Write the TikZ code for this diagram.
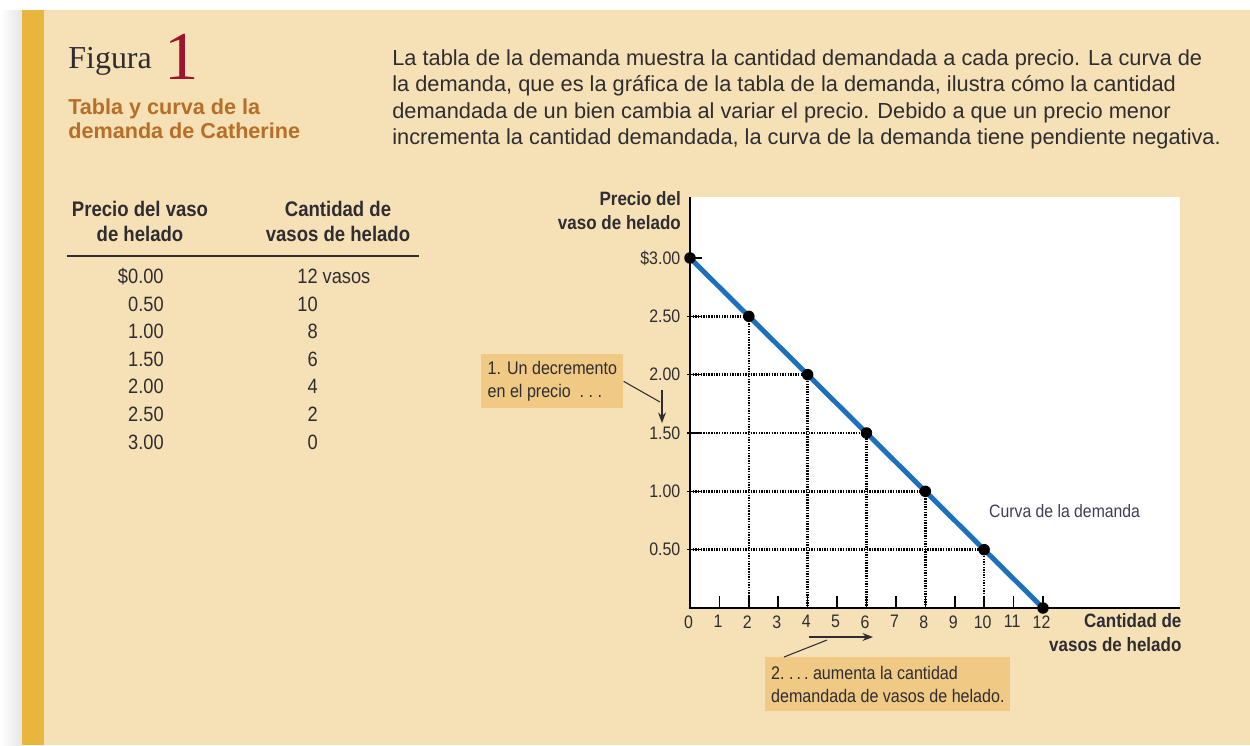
\documentclass[tikz,border=0pt]{standalone}
\usepackage{fontspec}
\usepackage{xcolor}
\usetikzlibrary{arrows.meta, positioning}
\newfontfamily\condfont{Liberation Sans}[FakeStretch=0.88]
\newfontfamily\headfont{Liberation Sans}
\newfontfamily\figfont{Liberation Serif}
\definecolor{pagebeige}{RGB}{246,224,181}
\definecolor{bargold}{RGB}{232,182,60}
\definecolor{notetan}{RGB}{240,202,132}
\definecolor{titlebrown}{RGB}{184,110,38}
\definecolor{figred}{RGB}{158,20,45}
\definecolor{curveblue}{RGB}{28,112,190}
\definecolor{inkgray}{RGB}{45,45,50}
\definecolor{curvelabel}{RGB}{62,62,88}

\begin{document}
\begin{tikzpicture}[x=0.02cm, y=-0.02cm,
    txt/.style={inner sep=0pt, text=inkgray, font=\headfont\fontsize{12.4}{15.1}\selectfont},
    hdr/.style={inner sep=0pt, text=inkgray, font=\condfont\bfseries\fontsize{12}{14.2}\selectfont},
    axt/.style={inner sep=0pt, text=inkgray, font=\condfont\bfseries\fontsize{11}{13.8}\selectfont},
    num/.style={inner sep=0pt, text=inkgray, font=\condfont\fontsize{11.8}{14}\selectfont},
    tick/.style={inner sep=0pt, text=inkgray, font=\condfont\fontsize{10.3}{12}\selectfont},
    notebox/.style={fill=notetan, inner ysep=0pt, minimum height=1.08cm, align=left,
                    text=inkgray, font=\condfont\fontsize{10.4}{13}\selectfont},
    leader/.style={draw=inkgray, line width=0.6pt},
    guide/.style={draw=black, line width=1.5pt, dash pattern=on 0.8pt off 0.7pt},
    dot/.style={circle, fill=black, inner sep=0pt, minimum size=0.23cm}]

    % page
    \useasboundingbox (0,0) rectangle (1250,745);
    \fill[white] (0,0) rectangle (1250,745);
    \shade[left color=white, right color=black!10] (0,10) rectangle (22,745);
    \fill[pagebeige] (44,10) rectangle (1250,745);
    \fill[bargold] (22,10) rectangle (44,745);

    % heading
    \node[anchor=base west, inner sep=0pt, text=inkgray, font=\figfont\fontsize{18.2}{20}\selectfont] (figword) at (68,68) {Figura};
    \node[anchor=base west, inner sep=0pt, text=figred, font=\figfont\fontsize{39}{40}\selectfont] (fignum) at (164,79) {1};
    \node[anchor=north west, inner sep=0pt, align=left, text=titlebrown,
          font=\headfont\bfseries\fontsize{12.3}{14.2}\selectfont] (figtitle) at (68,98)
          {Tabla y curva de la\\demanda de Catherine};
    \node[txt, anchor=north west, align=left] (caption) at (392,49)
          {La tabla de la demanda muestra la cantidad demandada a cada precio. La curva de\\
           la demanda, que es la gráfica de la tabla de la demanda, ilustra cómo la cantidad\\
           demandada de un bien cambia al variar el precio. Debido a que un precio menor\\
           incrementa la cantidad demandada, la curva de la demanda tiene pendiente negativa.};

    % schedule
    \node[hdr, align=center, anchor=north] (hprice) at (140,201) {Precio del vaso\\de helado};
    \node[hdr, align=center, anchor=north] (hqty) at (338,201) {Cantidad de\\vasos de helado};
    \draw[inkgray, line width=0.7pt] (67,256) -- (419,256);
    \foreach \p/\q/\y [count=\i] in {\$0.00/{12\rlap{ vasos}}/283, 0.50/10/311, 1.00/8/338,
                                     1.50/6/366, 2.00/4/393, 2.50/2/421, 3.00/0/449} {
        \node[num, anchor=base east] (price\i) at (164,\y) {\p};
        \node[num, anchor=base east] (qty\i) at (318,\y) {\q};
    }

    % graph
    \begin{scope}[shift={(690,608)}, x=0.5884cm, y=2.334cm]
        \fill[white] (0,0) rectangle (16.66,3.52);
        \foreach \q/\p [count=\i] in {0/3, 2/2.5, 4/2, 6/1.5, 8/1, 10/0.5, 12/0}
            \coordinate (d\i) at (\q,\p);
        \foreach \q/\p [count=\i from 2] in {2/2.5, 4/2, 6/1.5, 8/1, 10/0.5}
            \draw[guide] (0,\p) -- (d\i) -- (\q,0);
        \draw[black, line width=1.1pt] (0,3.52) -- (0,0) -- (16.66,0);
        \foreach \q in {1,...,12}
            \draw[black, line width=0.9pt] (\q,0) -- (\q,0.105);
        \foreach \p in {0.5,1,1.5,2,2.5,3}
            \draw[black, line width=0.9pt] (-0.1,\p) -- (0.42,\p);
        \draw[curveblue, line width=2.8pt] (d1) -- (d7);
        \foreach \i in {1,...,7}
            \node[dot] (pt\i) at (d\i) {};

        \foreach \q in {0,...,12}
            \node[tick, anchor=north] (xl\q) at (\q-0.05,-0.06) {\q};
        \foreach \lab/\p [count=\i] in {\$3.00/3, 2.50/2.5, 2.00/2, 1.50/1.5, 1.00/1, 0.50/0.5}
            \node[tick, anchor=east] (yl\i) at (-0.32,\p) {\lab};
        \node[axt, align=right, anchor=south east] (ytitle) at (-0.3,3.24) {Precio del\\vaso de helado};
        \node[axt, align=right, anchor=north east] (xtitle) at (16.72,-0.04) {Cantidad de\\vasos de helado};
        \node[inner sep=0pt, text=curvelabel, font=\condfont\fontsize{10.2}{12}\selectfont, anchor=base west]
            (curvename) at (10.16,0.78) {Curva de la demanda};
    \end{scope}

    % notes
    \node[notebox, anchor=north west, minimum width=2.84cm] (note1) at (481,354)
        {1. Un decremento\\en el precio\ \ .\ .\ .};
    \coordinate (lead1) at (660,402);
    \coordinate (dropA) at (662,390);
    \coordinate (dropB) at (662,423);
    \draw[leader] (note1.east) -- (lead1);
    \draw[leader, -{Stealth[length=6pt, width=4.5pt]}] (dropA) -- (dropB);

    \node[notebox, anchor=north west, minimum width=4.84cm] (note2) at (765,657)
        {2.\ .\,.\,.\ aumenta la cantidad\\demandada de vasos de helado.};
    \coordinate (lead2) at (827,640);
    \coordinate (riseA) at (809,637);
    \coordinate (riseB) at (873,637);
    \draw[leader] ([xshift=0.38cm]note2.north west) -- (lead2);
    \draw[leader, -{Stealth[length=6pt, width=4.5pt]}] (riseA) -- (riseB);
\end{tikzpicture}
\end{document}
